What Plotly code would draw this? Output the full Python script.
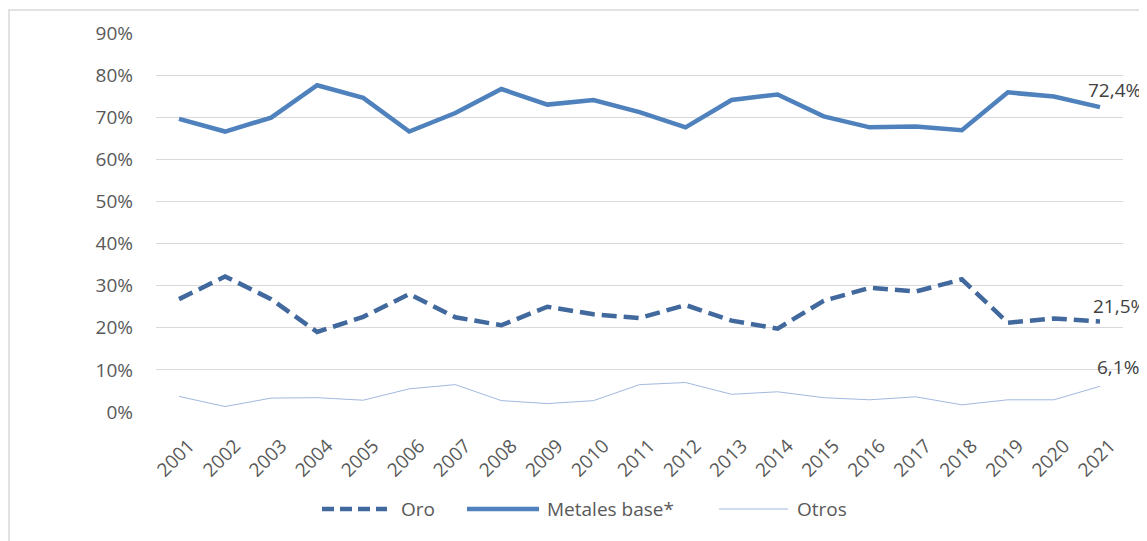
import plotly.graph_objects as go

years = ["2001", "2002", "2003", "2004", "2005", "2006", "2007", "2008", "2009", "2010", "2011",
         "2012", "2013", "2014", "2015", "2016", "2017", "2018", "2019", "2020", "2021"]
oro = [26.8, 32.2, 26.8, 19.0, 22.6, 28.0, 22.5, 20.6, 25.0, 23.2, 22.3,
       25.4, 21.7, 19.8, 26.4, 29.5, 28.6, 31.5, 21.2, 22.2, 21.5]
metales = [69.6, 66.6, 69.9, 77.6, 74.6, 66.6, 71.0, 76.7, 73.0, 74.1, 71.2,
           67.6, 74.1, 75.4, 70.2, 67.6, 67.8, 66.9, 75.9, 74.9, 72.4]
otros = [3.7, 1.3, 3.3, 3.4, 2.8, 5.5, 6.5, 2.7, 2.0, 2.7, 6.5,
         7.0, 4.2, 4.8, 3.4, 2.9, 3.6, 1.7, 2.9, 2.9, 6.1]
end_labels = ["21,5%", "72,4%", "6,1%"]

C_ORO = "#41699e"
C_MET = "#4f81bd"
C_OTR = "#a3b8de"
FONT = "Open Sans"
FS = 19

# page body has an 8px margin, so the figure starts at (8, 8) on screen
OFF = 8
W, H = 1139, 533
ML, MR, MT, MB = 148, 24, 25, 129
PW, PH = W - ML - MR, H - MT - MB


def px(x):
    # screen pixel -> paper x
    return (x - OFF - ML) / PW


def py(y):
    # screen pixel -> paper y
    return (H - MB - (y - OFF)) / PH


fig = go.Figure()
fig.add_trace(go.Scatter(x=years, y=oro, mode="lines", name="Oro",
                         line=dict(color=C_ORO, width=4.5, dash="15px,7px")))
fig.add_trace(go.Scatter(x=years, y=metales, mode="lines", name="Metales base*",
                         line=dict(color=C_MET, width=4.5)))
fig.add_trace(go.Scatter(x=years, y=otros, mode="lines", name="Otros",
                         line=dict(color=C_OTR, width=1)))

# end-of-line labels
last = len(years) - 1
for vals, lab, dx, dy in [(oro, end_labels[0], -9, 15), (metales, end_labels[1], -14, 17),
                          (otros, end_labels[2], -5, 19)]:
    fig.add_annotation(x=last, y=vals[-1], text=lab, showarrow=False,
                       xanchor="left", yanchor="middle", xshift=dx, yshift=dy,
                       font=dict(family=FONT, size=FS, color="#404040"))

# custom legend
legend_items = [("Oro", C_ORO, 4.5, "12px,6px", 322, 387, 399),
                ("Metales base*", C_MET, 4.5, "solid", 467, 539, 545),
                ("Otros", C_OTR, 1, "solid", 719, 788, 795)]
for name, col, w, dash, x0, x1, tx in legend_items:
    fig.add_shape(type="line", xref="paper", yref="paper",
                  x0=px(x0), x1=px(x1), y0=py(509), y1=py(509),
                  line=dict(color=col, width=w, dash=dash))
    fig.add_annotation(xref="paper", yref="paper", x=px(tx), y=py(509), text=name,
                       showarrow=False, xanchor="left", yanchor="middle",
                       font=dict(family=FONT, size=FS, color="#595959"))

# chart frame (runs off the right and bottom edges, as in the source)
fig.add_shape(type="rect", xref="paper", yref="paper", layer="below",
              x0=px(9), x1=px(1170), y0=py(580), y1=py(10),
              line=dict(color="#d9d9d9", width=1.5), fillcolor="rgba(0,0,0,0)")

fig.update_layout(
    width=W, height=H,
    margin=dict(l=ML, r=MR, t=MT, b=MB),
    paper_bgcolor="white", plot_bgcolor="white",
    showlegend=False,
    font=dict(family=FONT, size=FS, color="#595959"),
    xaxis=dict(type="category", range=[-0.5, 20.5], tickangle=-45,
               showgrid=False, showline=False, ticks="", ticklabelstandoff=18,
               ticklabelshift=10, tickfont=dict(size=FS, color="#595959")),
    yaxis=dict(range=[0, 90], dtick=10, ticksuffix="%", showgrid=True,
               gridcolor="#d9d9d9", gridwidth=1, zeroline=False, showline=False,
               ticks="", ticklabelstandoff=22, tickfont=dict(size=FS, color="#595959")),
)

fig.write_html("out.html")
